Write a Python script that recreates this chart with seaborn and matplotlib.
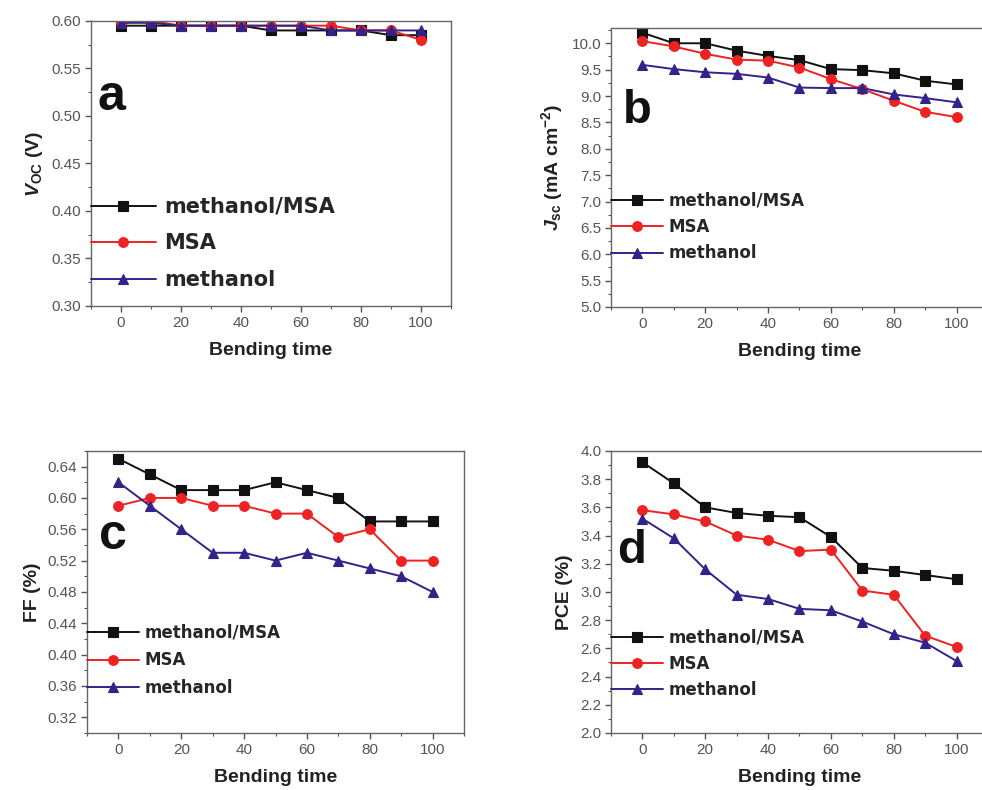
import matplotlib
matplotlib.use("Agg")
import matplotlib.pyplot as plt
import seaborn as sns
import numpy as np
from matplotlib.ticker import MultipleLocator, AutoMinorLocator

sns.set_theme(style="white")
plt.rcParams['font.family'] = ['Liberation Sans', 'DejaVu Sans']
plt.rcParams['mathtext.fontset'] = 'custom'
plt.rcParams['mathtext.rm'] = 'Liberation Sans:bold'
plt.rcParams['mathtext.it'] = 'Liberation Sans:italic:bold'
plt.rcParams['mathtext.bf'] = 'Liberation Sans:bold'

bending_time = [0, 10, 20, 30, 40, 50, 60, 70, 80, 90, 100]
series_names = ["methanol/MSA", "MSA", "methanol"]

voc_mm = [0.595, 0.595, 0.595, 0.595, 0.595, 0.590, 0.590, 0.590, 0.590, 0.585, 0.585]
voc_msa = [0.598, 0.600, 0.595, 0.595, 0.595, 0.595, 0.595, 0.595, 0.590, 0.590, 0.580]
voc_me = [0.598, 0.598, 0.595, 0.595, 0.595, 0.595, 0.595, 0.590, 0.590, 0.590, 0.590]

jsc_mm = [10.20, 10.00, 10.00, 9.86, 9.76, 9.68, 9.51, 9.49, 9.43, 9.29, 9.22]
jsc_msa = [10.04, 9.94, 9.80, 9.69, 9.67, 9.54, 9.32, 9.13, 8.91, 8.70, 8.60]
jsc_me = [9.59, 9.51, 9.45, 9.42, 9.35, 9.16, 9.15, 9.15, 9.03, 8.96, 8.88]

ff_mm = [0.65, 0.63, 0.61, 0.61, 0.61, 0.62, 0.61, 0.60, 0.57, 0.57, 0.57]
ff_msa = [0.59, 0.60, 0.60, 0.59, 0.59, 0.58, 0.58, 0.55, 0.56, 0.52, 0.52]
ff_me = [0.62, 0.59, 0.56, 0.53, 0.53, 0.52, 0.53, 0.52, 0.51, 0.50, 0.48]

pce_mm = [3.92, 3.77, 3.60, 3.56, 3.54, 3.53, 3.39, 3.17, 3.15, 3.12, 3.09]
pce_msa = [3.58, 3.55, 3.50, 3.40, 3.37, 3.29, 3.30, 3.01, 2.98, 2.69, 2.61]
pce_me = [3.52, 3.38, 3.16, 2.98, 2.95, 2.88, 2.87, 2.79, 2.70, 2.64, 2.51]

colors = ["#111111", "#ee2222", "#33228a"]
markers = ["s", "o", "^"]

fig = plt.figure(figsize=(9.82, 7.9), dpi=100)

panels = [
    dict(pos=[0.0927, 0.6127, 0.3666, 0.3608], data=[voc_mm, voc_msa, voc_me],
         ylim=(0.30, 0.60), major=0.05, fmt="{:.2f}", ylabel=r'$V_{\mathrm{OC}}$ (V)',
         letter="a", lfs=36, lpos=(0.017, 0.688), leg_fs=15, leg_y=0.383, hl=3.1,
         htp=0.4, ls=0.80, ms=7),
    dict(pos=[0.6222, 0.6114, 0.3839, 0.3532], data=[jsc_mm, jsc_msa, jsc_me],
         ylim=(5.0, 10.29), major=0.5, fmt="{:.1f}", ylabel=r'$J_{\mathrm{sc}}$ (mA cm$^{-2}$)',
         letter="b", lfs=34, lpos=(0.032, 0.66), leg_fs=12, leg_y=0.413, hl=3.1,
         htp=0.36, ls=0.50, ms=7),
    dict(pos=[0.0886, 0.0722, 0.3839, 0.357], data=[ff_mm, ff_msa, ff_me],
         ylim=(0.30, 0.66), major=0.04, fmt="{:.2f}", ylabel="FF (%)",
         letter="c", lfs=36, lpos=(0.032, 0.652), leg_fs=12, leg_y=0.387, hl=3.1,
         htp=0.36, ls=0.58, ms=7),
    dict(pos=[0.6222, 0.0722, 0.3839, 0.357], data=[pce_mm, pce_msa, pce_me],
         ylim=(2.0, 4.0), major=0.2, fmt="{:.1f}", ylabel="PCE (%)",
         letter="d", lfs=34, lpos=(0.016, 0.603), leg_fs=12, leg_y=0.370, hl=3.1,
         htp=0.36, ls=0.50, ms=7),
]

for p in panels:
    ax = fig.add_axes(p["pos"])
    for name, vals, c, m in zip(series_names, p["data"], colors, markers):
        sns.lineplot(x=bending_time, y=vals, color=c, marker=m, markersize=p["ms"],
                     markeredgecolor=c, markeredgewidth=0.8, linewidth=1.4,
                     label=name, ax=ax)
    ax.set_xlim(-10, 110)
    ax.set_ylim(*p["ylim"])
    ax.xaxis.set_major_locator(MultipleLocator(20))
    ax.xaxis.set_minor_locator(MultipleLocator(10))
    ax.yaxis.set_major_locator(MultipleLocator(p["major"]))
    ax.yaxis.set_minor_locator(AutoMinorLocator(2))
    ticks = ax.get_yticks()
    ax.set_yticks([t for t in ticks if p["ylim"][0] - 1e-9 <= t <= p["ylim"][1] + 1e-9])
    ax.yaxis.set_major_formatter(matplotlib.ticker.FuncFormatter(lambda v, _, f=p["fmt"]: f.format(v)))
    ax.tick_params(axis="both", which="major", direction="out", length=4, width=1,
                   color="#555555", labelsize=11, labelcolor="#555555",
                   bottom=True, left=True, top=False, right=False, pad=3)
    ax.tick_params(axis="both", which="minor", direction="out", length=2.5, width=0.8,
                   color="#555555", bottom=True, left=True, top=False, right=False)
    for s in ax.spines.values():
        s.set_color("#666666")
        s.set_linewidth(1.0)
    ax.set_xlabel("Bending time", fontsize=14, fontweight="bold", color="#222222", labelpad=9)
    ax.set_ylabel(p["ylabel"], fontsize=14, fontweight="bold", color="#222222", labelpad=5)
    ax.text(p["lpos"][0], p["lpos"][1], p["letter"], transform=ax.transAxes,
            fontsize=p["lfs"], fontweight="bold", color="#111111", ha="left", va="baseline")
    ax.legend(loc="upper left", bbox_to_anchor=(0.0, p["leg_y"]), frameon=False,
              borderpad=0, borderaxespad=0, handlelength=p["hl"], handletextpad=p["htp"],
              labelspacing=p["ls"],
              prop=dict(family="DejaVu Sans", size=p["leg_fs"], weight="bold"))

fig.savefig("out.png", dpi=100)
